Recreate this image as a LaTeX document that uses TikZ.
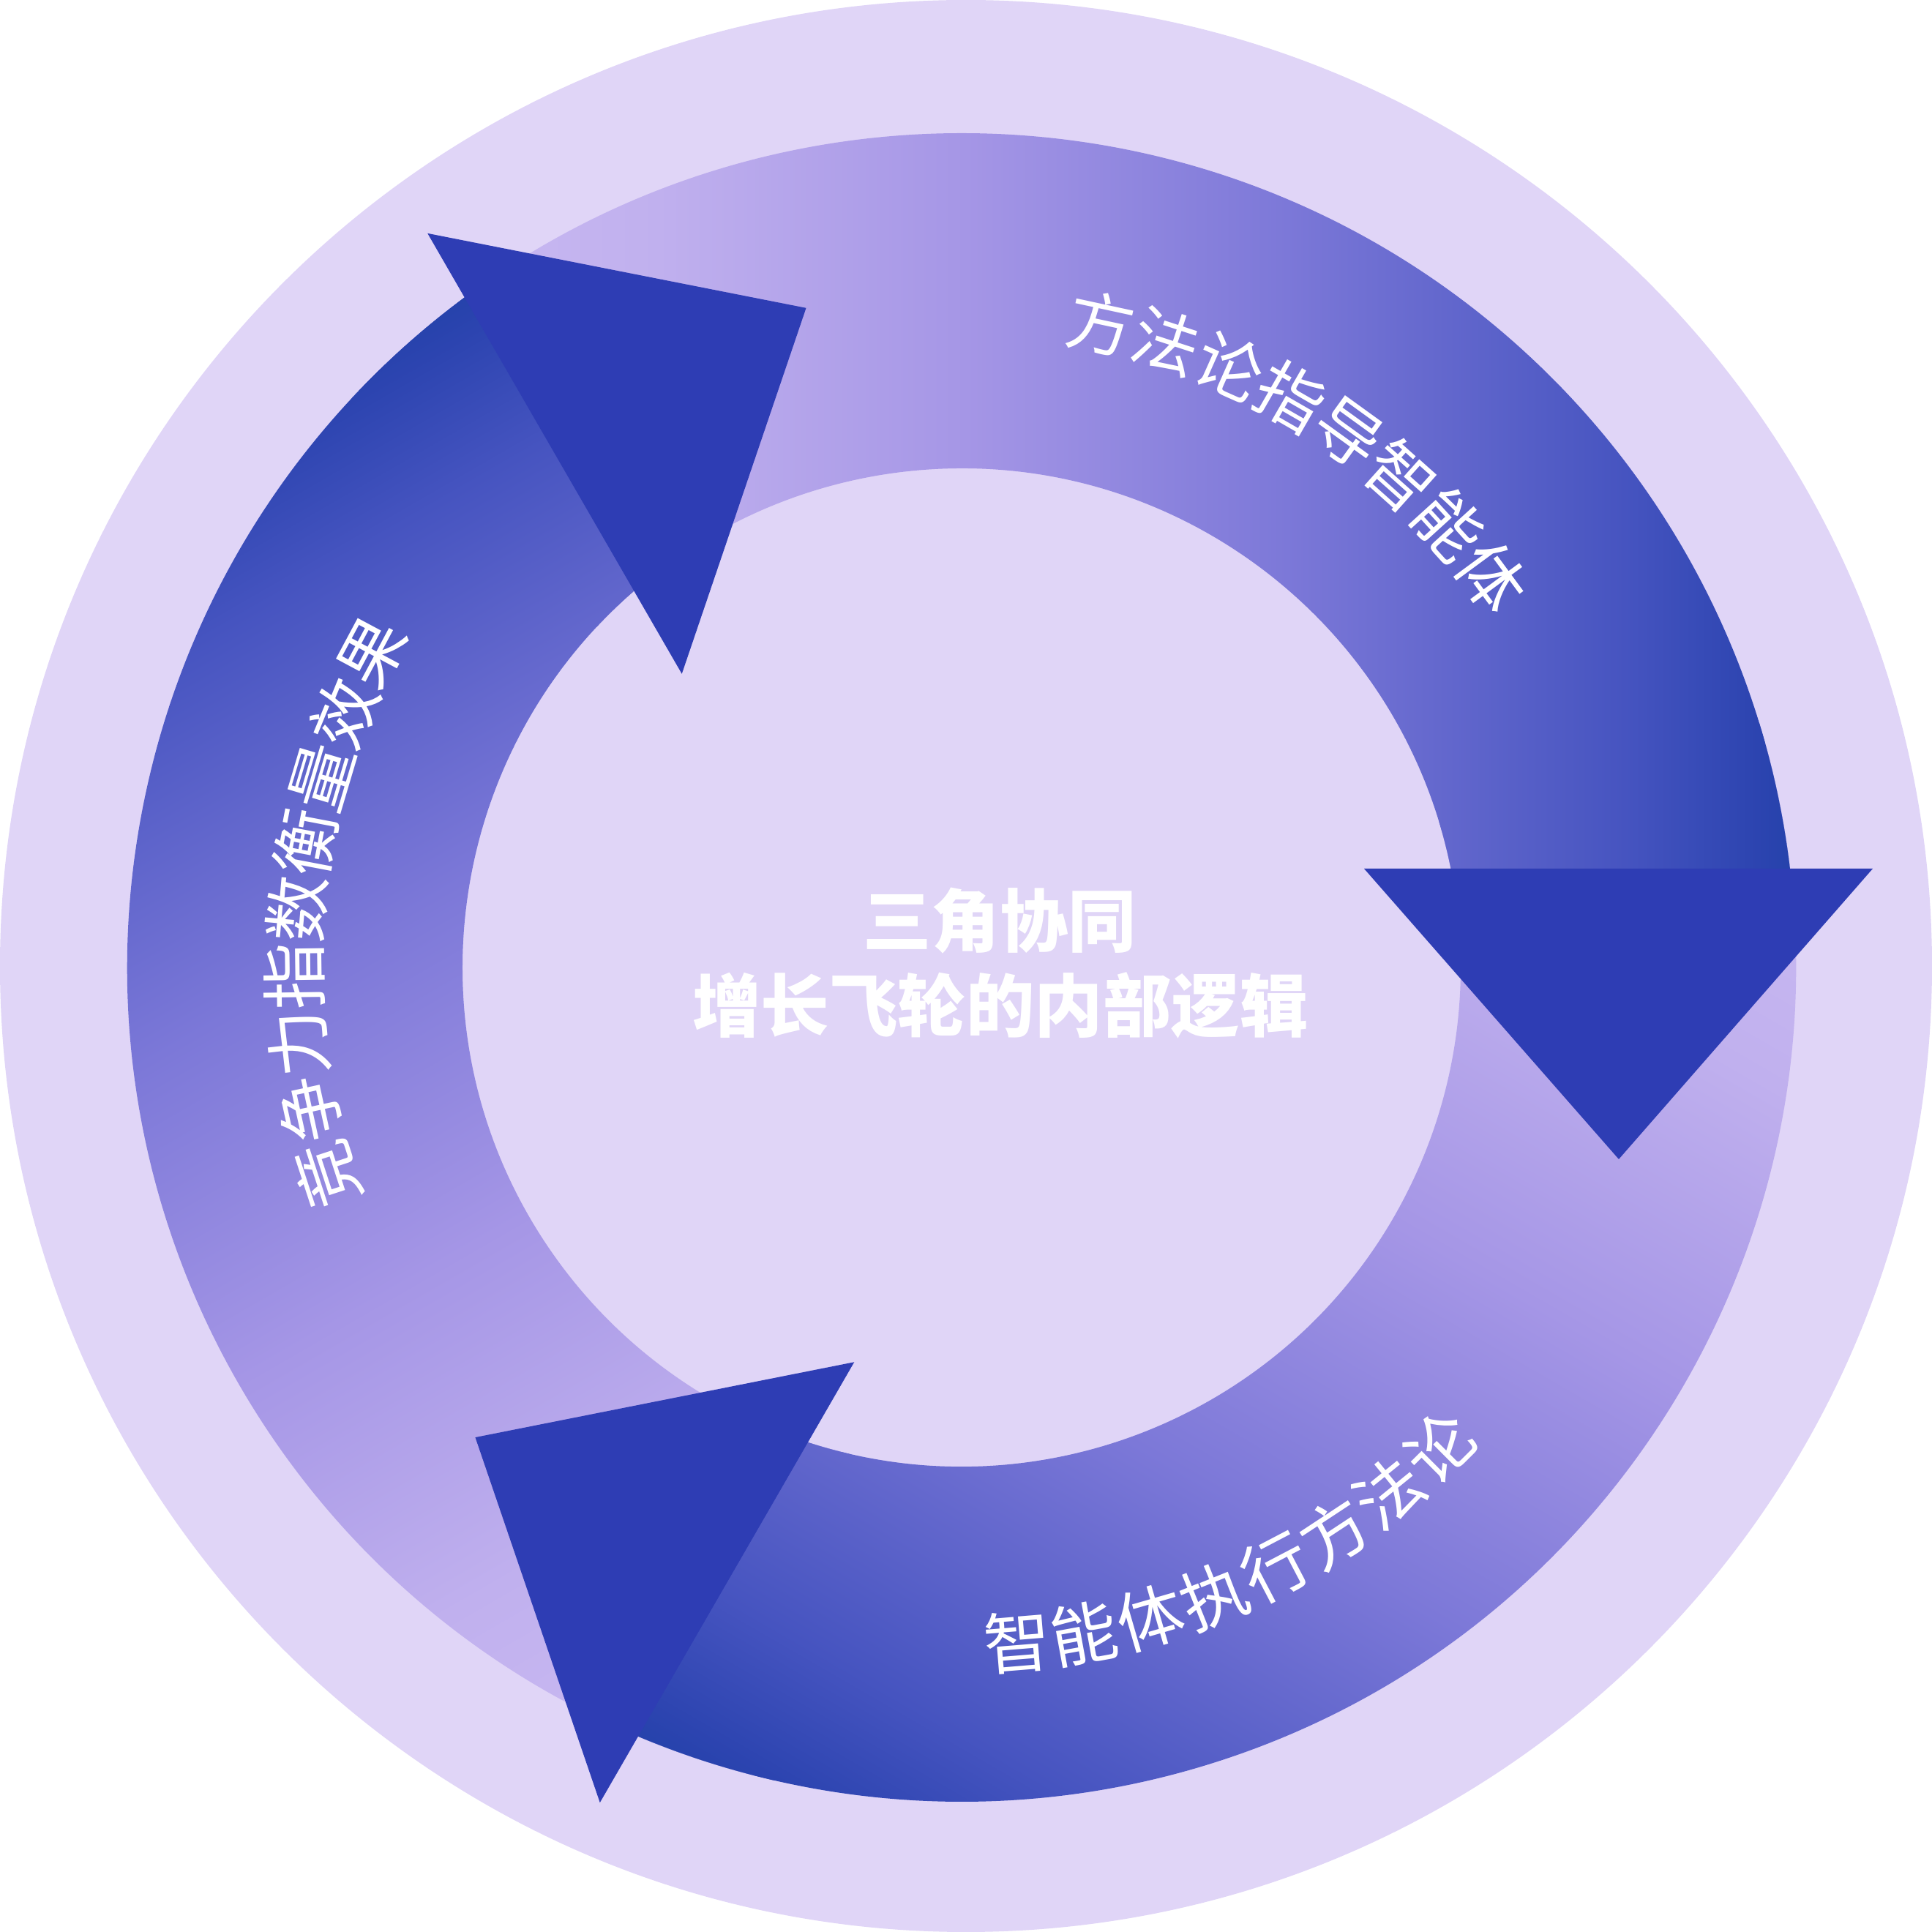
\documentclass[tikz,border=0pt]{standalone}
\usepackage{fontspec}
\newfontfamily\cjk{Noto Sans CJK SC}
\usetikzlibrary{calc}
\definecolor{bgl}{HTML}{E0D5F7}
\definecolor{arrowc}{HTML}{2E3DB4}
\definecolor{ca}{HTML}{CDBDF3}
\definecolor{cb}{HTML}{C0B0EE}
\definecolor{cc}{HTML}{A596E6}
\definecolor{cd}{HTML}{7C78D8}
\definecolor{ce}{HTML}{4654C0}
\definecolor{cf}{HTML}{2C44B0}
\definecolor{cg}{HTML}{2442AA}
\pgfdeclarehorizontalshading{ringgrad}{100bp}{color(0bp)=(ca); color(25bp)=(ca); color(35.2bp)=(cb); color(45.9bp)=(cc); color(57.1bp)=(cd); color(68.9bp)=(ce); color(73.5bp)=(cf); color(75bp)=(cg); color(100bp)=(cg)}
\newcommand{\SegClip}{\clip ([shift={(136:11.4)}]O) arc[start angle=136,end angle=6.5,radius=11.4] -- ([shift={(6.5:6.82)}]O) arc[start angle=6.5,end angle=136,radius=6.82] -- cycle;}
\newcommand{\SegShade}{\shade[shading=ringgrad] (5.0,0) rectangle (24.6,26.4);}
\newcommand{\DrawSeg}{\begin{scope}\SegClip\SegShade\end{scope}}
\newcommand{\DrawSegEnd}{\begin{scope}\SegClip\clip (O) -- ([shift={(5:12.5)}]O) arc[start angle=5,end angle=17,radius=12.5] -- cycle;\SegShade\end{scope}}
\tikzset{
  ringtext/.style={text=white, font=\cjk\fontsize{26}{26}\selectfont, inner sep=0pt},
  centertext/.style={text=white, font=\cjk\bfseries\fontsize{26.6}{26.6}\selectfont, inner sep=0pt},
  arrowhead/.style={fill=arrowc}
}
\begin{document}
\begin{tikzpicture}
\useasboundingbox (0,0) rectangle (26.4,26.4);
\coordinate (O) at (13.14,13.18);
\coordinate (P) at (13.21,13.17);
\coordinate (BG) at (13.2,13.2);
\fill[bgl] (BG) circle[radius=13.2];
% ring segments
\DrawSeg
\begin{scope}[transform canvas={rotate around={-120:(O)}}]\DrawSeg\end{scope}
\begin{scope}[transform canvas={rotate around={120:(O)}}]\DrawSeg\end{scope}
\DrawSegEnd
\begin{scope}[transform canvas={rotate around={-120:(O)}}]\DrawSegEnd\end{scope}
\begin{scope}[transform canvas={rotate around={120:(O)}}]\DrawSegEnd\end{scope}
% arrowheads
\foreach \r in {0,-120,120} {
  \begin{scope}[shift={(P)}, rotate=\r]
    \fill[arrowhead] (5.43,1.36) -- (12.38,1.36) -- (8.91,-2.61) -- cycle;
  \end{scope}
}
% ring texts
\foreach \c [count=\i from 0] in {方,法,论,指,导,智,能,体} {
  \pgfmathsetmacro\a{77.8-5.92*\i}
  \node[ringtext, rotate=\a-90] (tr\i) at ([shift={(\a:9.0)}]O) {\c};
}
\foreach \c [count=\i from 0] in {竞,争,力,指,数,衡,量,效,果} {
  \pgfmathsetmacro\a{198.1-5.78*\i}
  \node[ringtext, rotate=\a-90] (tl\i) at ([shift={(\a:9.12)}]O) {\c};
}
\foreach \c [count=\i from 0] in {智,能,体,执,行,方,法,论} {
  \pgfmathsetmacro\a{-85.3+5.74*\i}
  \node[ringtext, rotate=\a+90] (tb\i) at ([shift={(\a:9.25)}]O) {\c};
}
% center text
\node[centertext] (t1) at (13.66,13.82) {三角协同};
\node[centertext] (t2) at (13.67,12.66) {增长飞轮的内部逻辑};
\end{tikzpicture}
\end{document}
